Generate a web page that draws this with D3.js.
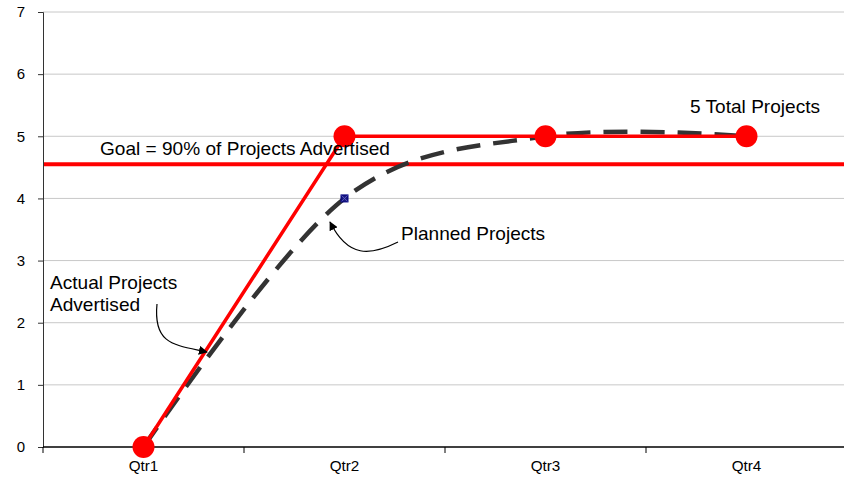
<!DOCTYPE html>
<html>
<head>
<meta charset="utf-8">
<script src="https://cdn.jsdelivr.net/npm/d3@7"></script>
<style>
  html, body { margin: 0; padding: 0; background: #fff; }
  svg { display: block; font-family: "Liberation Sans", Arial, sans-serif; }
</style>
</head>
<body>
<svg id="chart" width="844" height="479"></svg>
<script>
// Quarterly categories and series
const quarters = ["Qtr1", "Qtr2", "Qtr3", "Qtr4"];
const actualProjects = [0, 5, 5, 5];
const plannedProjects = [0, 4, 5, 5];
const goalValue = 4.55;
const yTicks = [0, 1, 2, 3, 4, 5, 6, 7];

const svg = d3.select("#chart");
const plotLeft = 43, plotRight = 847, plotTop = 12, plotBottom = 447;
const widen = 1.09; // horizontal stretch applied to the lettering

const x = d3.scaleBand().domain(quarters).range([plotLeft, plotRight]).padding(0);
const y = d3.scaleLinear().domain([0, 7]).range([plotBottom, plotTop]);
const cx = q => x(q) + x.bandwidth() / 2;

// Horizontal gridlines
svg.append("g")
  .selectAll("line")
  .data(yTicks.filter(d => d > 0))
  .join("line")
  .attr("x1", plotLeft).attr("x2", 844)
  .attr("y1", d => y(d)).attr("y2", d => y(d))
  .attr("stroke", "#c8c8c8").attr("stroke-width", 1);

// Y axis
const yAxis = svg.append("g")
  .attr("transform", `translate(${plotLeft},0)`)
  .call(d3.axisLeft(y).tickValues(yTicks).tickSize(5).tickPadding(13).tickFormat(d3.format("d")));
yAxis.select(".domain").attr("stroke", "#333").attr("stroke-width", 1);
yAxis.selectAll(".tick line").attr("stroke", "#333");
yAxis.selectAll("text").attr("font-size", 15).attr("fill", "#000")
  .attr("font-family", "Liberation Sans, Arial, sans-serif");

// X axis: labels centred in each quarter, tick marks on the boundaries
const xAxis = svg.append("g")
  .attr("transform", `translate(0,${plotBottom})`)
  .call(d3.axisBottom(x).tickSize(0).tickPadding(14));
xAxis.select(".domain").remove();
xAxis.selectAll("text").attr("font-size", 14).attr("fill", "#000")
  .attr("transform", `scale(${widen},1)`)
  .attr("font-family", "Liberation Sans, Arial, sans-serif");
svg.append("line")
  .attr("x1", plotLeft).attr("x2", 844).attr("y1", plotBottom).attr("y2", plotBottom)
  .attr("stroke", "#000").attr("stroke-width", 1.5);
svg.append("g")
  .selectAll("line")
  .data(quarters.slice(1).map(q => x(q)).concat([plotLeft]))
  .join("line")
  .attr("x1", d => d).attr("x2", d => d)
  .attr("y1", plotBottom).attr("y2", plotBottom + 6)
  .attr("stroke", "#000");

// Goal line
svg.append("line")
  .attr("x1", plotLeft + 1).attr("x2", 844)
  .attr("y1", y(goalValue)).attr("y2", y(goalValue))
  .attr("stroke", "#ff0000").attr("stroke-width", 4);

// Planned projects: smoothed dashed line
const plannedPts = quarters.map((q, i) => [cx(q), y(plannedProjects[i])]);
svg.append("path")
  .attr("d", d3.line().curve(d3.curveCatmullRom.alpha(0))(plannedPts))
  .attr("fill", "none")
  .attr("stroke", "#333")
  .attr("stroke-width", 4.5)
  .attr("stroke-dasharray", "24,13");

// Planned markers (small navy squares with a cross)
const pm = svg.append("g").selectAll("g").data(plannedPts).join("g")
  .attr("transform", d => `translate(${d[0]},${d[1]})`);
pm.append("rect").attr("x", -3.5).attr("y", -3.5).attr("width", 7).attr("height", 7)
  .attr("fill", "#1a1a80").attr("stroke", "#000080");
pm.append("path").attr("d", "M-3,-3L3,3M-3,3L3,-3").attr("stroke", "#6a6acc").attr("stroke-width", 0.8);

// Actual projects line and markers
const actualPts = quarters.map((q, i) => [cx(q), y(actualProjects[i])]);
svg.append("path")
  .attr("d", d3.line()(actualPts))
  .attr("fill", "none")
  .attr("stroke", "#ff0000")
  .attr("stroke-width", 3.5);
svg.append("g").selectAll("circle").data(actualPts).join("circle")
  .attr("cx", d => d[0]).attr("cy", d => d[1]).attr("r", 11)
  .attr("fill", "#ff0000");

// Arrowhead marker for annotations
svg.append("defs").append("marker")
  .attr("id", "arrow")
  .attr("viewBox", "0 0 10 10")
  .attr("refX", 9).attr("refY", 5)
  .attr("markerWidth", 9).attr("markerHeight", 9)
  .attr("markerUnits", "userSpaceOnUse")
  .attr("orient", "auto")
  .append("path").attr("d", "M0,0L10,5L0,10Z").attr("fill", "#000");

// Annotation texts
const txt = (tx, ty, s) => svg.append("text")
  .attr("transform", `translate(${tx},${ty}) scale(${widen},1)`)
  .attr("font-size", 17.5).attr("fill", "#000").text(s);
txt(100, 155, "Goal = 90% of Projects Advertised");
txt(690, 113, "5 Total Projects");
txt(401, 240, "Planned Projects");
txt(50, 289, "Actual Projects");
txt(50, 311, "Advertised");

// Annotation arrows
svg.append("path")
  .attr("d", "M157,304 C153,345 175,345 207,352")
  .attr("fill", "none").attr("stroke", "#000").attr("stroke-width", 1.2)
  .attr("marker-end", "url(#arrow)");
svg.append("path")
  .attr("d", "M398,242 C370,256 348,258 330,222")
  .attr("fill", "none").attr("stroke", "#000").attr("stroke-width", 1.2)
  .attr("marker-end", "url(#arrow)");
</script>
</body>
</html>
